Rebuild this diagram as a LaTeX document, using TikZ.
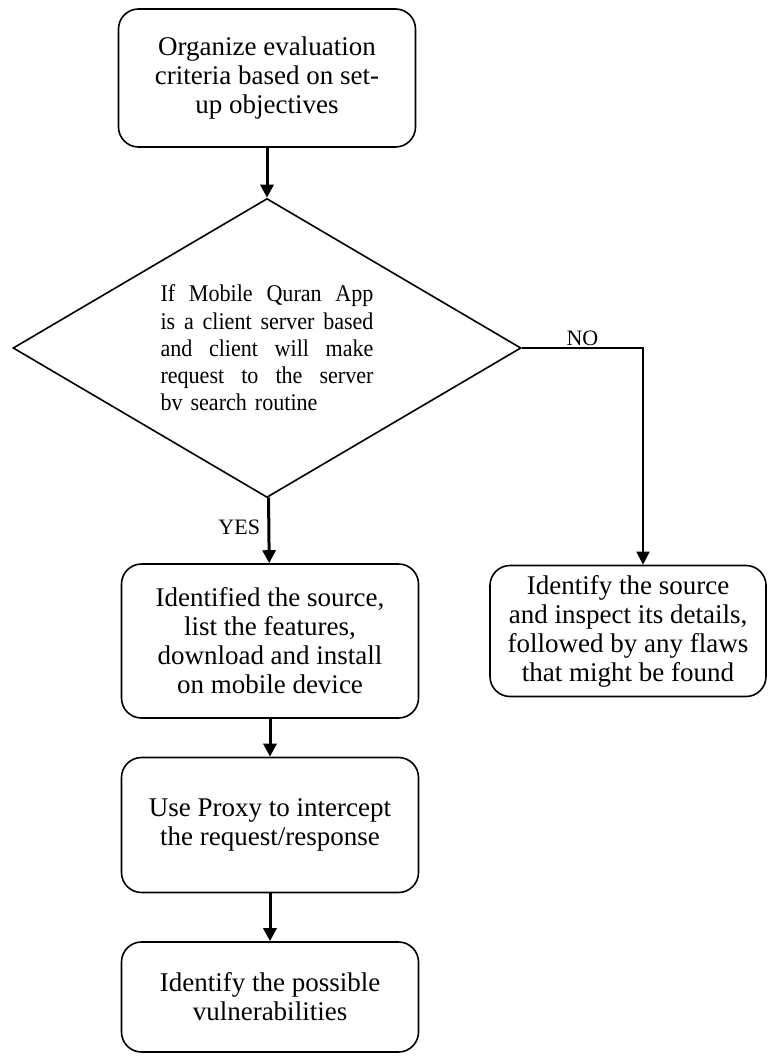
\documentclass[tikz,border=0pt]{standalone}
\usepackage{fontspec}
\setmainfont{Liberation Serif}
\newfontfamily\condserif{Liberation Serif}[FakeStretch=0.92]
\usetikzlibrary{arrows.meta,shapes.geometric}
\newcommand{\jline}[1]{\makebox[213pt][s]{\spaceskip=.25em plus 1fil\relax #1}}

\begin{document}
\begin{tikzpicture}[x=1pt, y=-1pt,
    box/.style={rectangle, draw, line width=1.6pt, rounded corners=20pt, minimum width=#1, align=center, font=\fontsize{27}{29}\selectfont},
    box/.default=297pt,
    dec/.style={diamond, draw, line width=1.6pt, minimum width=508pt, minimum height=299pt, aspect=1.7, inner sep=0pt, text width=213pt, align=left, font=\condserif\fontsize{24}{27.3}\selectfont},
    arr/.style={-{Triangle[length=13pt, width=13pt]}, line width=3pt},
    thinarr/.style={-{Triangle[length=13pt, width=13pt]}, line width=1.6pt},
    lab/.style={font=\fontsize{22}{26}\selectfont}
]
\useasboundingbox (0,0) rectangle (772,1056);

% Start: criteria
\node[box, minimum height=138pt] (crit) at (267,78)
    {Organize evaluation\\criteria based on set-\\up objectives};

% Decision
\node[dec] (cond) at (267,348)
    {\jline{If Mobile Quran App}\\
     \jline{is a client server based}\\
     \jline{and client will make}\\
     \jline{request to the server}\\
     bv search routine};

% YES branch
\node[box, minimum height=154pt] (src) at (270,641)
    {Identified the source,\\list the features,\\download and install\\on mobile device};
\node[box, minimum height=135pt] (proxy) at (270,825)
    {Use Proxy to intercept\\the request/response};
\node[box, minimum height=110pt] (vuln) at (270,997)
    {Identify the possible\\vulnerabilities};

% NO branch
\node[box=276pt, minimum height=131pt] (insp) at (628,631)
    {Identify the source\\and inspect its details,\\followed by any flaws\\that might be found};
\coordinate (nobend) at (643,348);

% Arrows
\draw[arr] (crit) -- (cond);
\draw[arr] (cond) -- (src) node[pos=0.45, left=4pt, lab] {YES};
\draw[arr] (src) -- (proxy);
\draw[arr] (proxy) -- (vuln);
\draw[thinarr] (cond.east) -- (nobend) node[midway, above=-2pt, lab] {NO} -- (nobend |- insp.north);

\end{tikzpicture}
\end{document}
